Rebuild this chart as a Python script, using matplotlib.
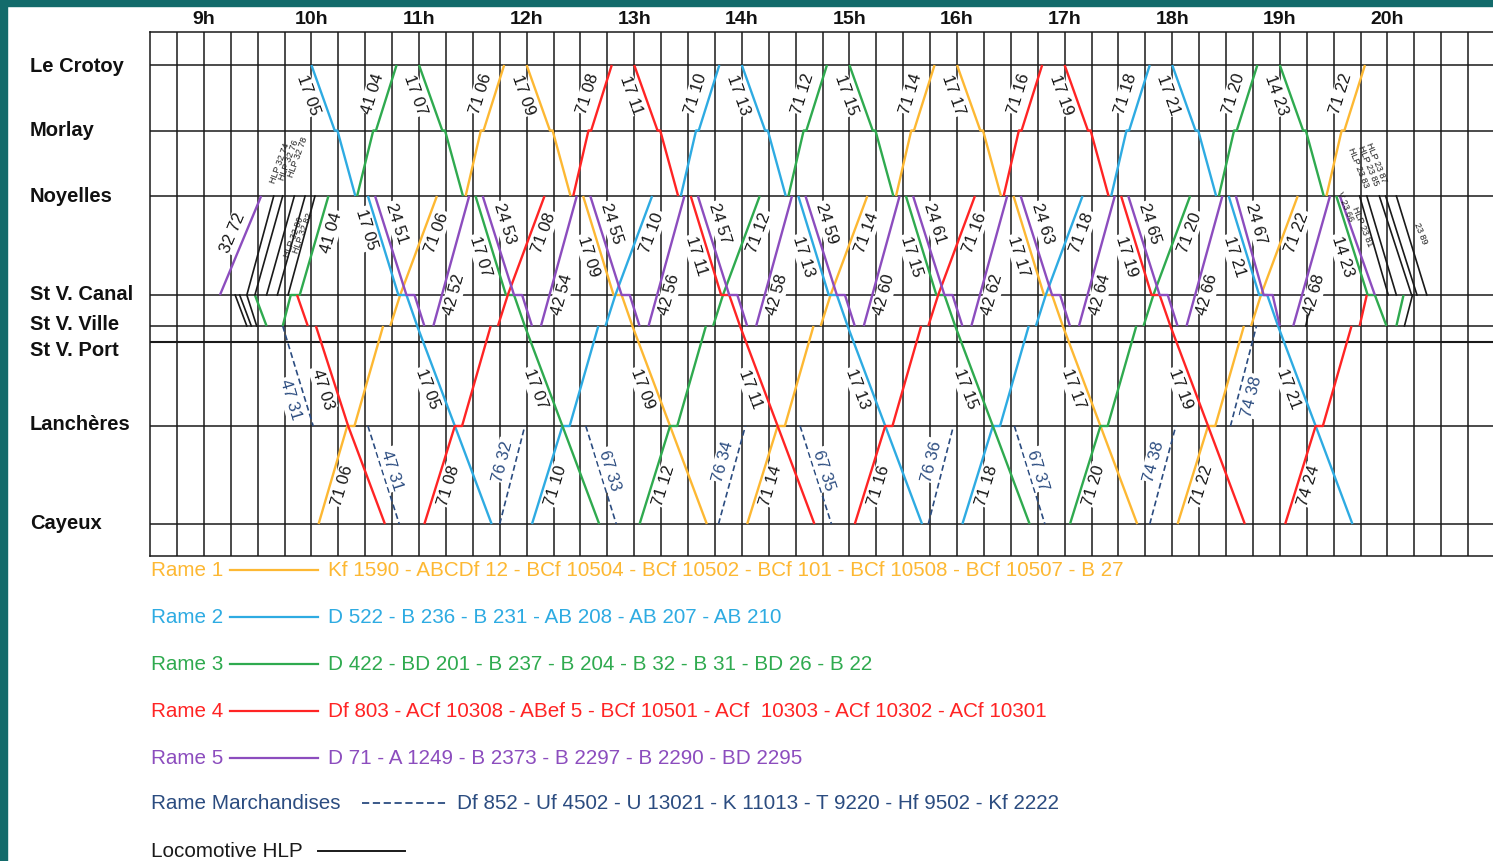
import math
import matplotlib
matplotlib.use('Agg')
import matplotlib.pyplot as plt
from matplotlib.lines import Line2D
from matplotlib.patches import Rectangle

plt.rcParams['font.family'] = ['Liberation Sans', 'DejaVu Sans']

# ------------------------------------------------------------------ data
station_codes = ['LC', 'MO', 'NO', 'SC', 'SV', 'SP', 'LA', 'CA']
station_names = ['Le Crotoy', 'Morlay', 'Noyelles', 'St V. Canal', 'St V. Ville',
                 'St V. Port', 'Lanchères', 'Cayeux']
hour_values = [9, 10, 11, 12, 13, 14, 15, 16, 17, 18, 19, 20]
hour_labels = ['9h', '10h', '11h', '12h', '13h', '14h', '15h', '16h', '17h', '18h', '19h', '20h']

rame_names = ['Rame 1', 'Rame 2', 'Rame 3', 'Rame 4', 'Rame 5', 'Rame Marchandises', 'Locomotive HLP']
rame_compositions = [
    'Kf 1590 - ABCDf 12 - BCf 10504 - BCf 10502 - BCf 101 - BCf 10508 - BCf 10507 - B 27',
    'D 522 - B 236 - B 231 - AB 208 - AB 207 - AB 210',
    'D 422 - BD 201 - B 237 - B 204 - B 32 - B 31 - BD 26 - B 22',
    'Df 803 - ACf 10308 - ABef 5 - BCf 10501 - ACf  10303 - ACf 10302 - ACf 10301',
    'D 71 - A 1249 - B 2373 - B 2297 - B 2290 - BD 2295',
    'Df 852 - Uf 4502 - U 13021 - K 11013 - T 9220 - Hf 9502 - Kf 2222',
    '',
]

# train: (number, kind, path)  path = segments separated by '|'
trains_rame1 = [
    ('71 06', 'N', 'CA 10:04, LA 10:20, LA 10:24, SV 10:40 | SV 10:44, SC 10:49.5, NO 11:10 | NO 11:26, MO 11:34.5, MO 11:36, LC 11:47.5'),
    ('17 09', 'S', 'LC 12:00, MO 12:13, MO 12:14.5, NO 12:24.5 | NO 12:31.5, SC 12:48.5, SC 12:53, SV 12:59, LA 13:20, CA 13:40.5'),
    ('71 14', 'N', 'CA 14:03, LA 14:20, LA 14:24, SV 14:40 | SV 14:44, SC 14:49.5, NO 15:10 | NO 15:26, MO 15:34.5, MO 15:36, LC 15:47.5'),
    ('17 17', 'S', 'LC 16:00, MO 16:13, MO 16:14.5, NO 16:24.5 | NO 16:31.5, SC 16:48.5, SC 16:53, SV 16:59, LA 17:20, CA 17:40.5'),
    ('71 22', 'N', 'CA 18:03, LA 18:20, LA 18:24, SV 18:40 | SV 18:44, SC 18:49.5, NO 19:10 | NO 19:26, MO 19:34.5, MO 19:36, LC 19:47.5'),
]
trains_rame2 = [
    ('17 05', 'S', 'LC 10:00, MO 10:13, MO 10:14.5, NO 10:24.5 | NO 10:31.5, SC 10:48.5, SC 10:53, SV 10:59, LA 11:20, CA 11:40.5'),
    ('71 10', 'N', 'CA 12:03, LA 12:20, LA 12:24, SV 12:40 | SV 12:44, SC 12:49.5, NO 13:10 | NO 13:26, MO 13:34.5, MO 13:36, LC 13:47.5'),
    ('17 13', 'S', 'LC 14:00, MO 14:13, MO 14:14.5, NO 14:24.5 | NO 14:31.5, SC 14:48.5, SC 14:53, SV 14:59, LA 15:20, CA 15:40.5'),
    ('71 18', 'N', 'CA 16:03, LA 16:20, LA 16:24, SV 16:40 | SV 16:44, SC 16:49.5, NO 17:10 | NO 17:26, MO 17:34.5, MO 17:36, LC 17:47.5'),
    ('17 21', 'S', 'LC 18:00, MO 18:13, MO 18:14.5, NO 18:24.5 | NO 18:31.5, SC 18:48.5, SC 18:53, SV 18:59, LA 19:20, CA 19:40.5'),
]
trains_rame3 = [
    ('', 'X', 'SC 9:28.5, SV 9:35'),
    ('41 04', 'N', 'SV 9:44, SC 9:48.5, SC 9:53.5, NO 10:09.5 | NO 10:25.5, MO 10:34.5, MO 10:36, LC 10:47.5'),
    ('17 07', 'S', 'LC 11:00, MO 11:13, MO 11:14.5, NO 11:24.5 | NO 11:31.5, SC 11:48.5, SC 11:53, SV 11:59, LA 12:20, CA 12:40.5'),
    ('71 12', 'N', 'CA 13:03, LA 13:20, LA 13:24, SV 13:40 | SV 13:44, SC 13:49.5, NO 14:10 | NO 14:26, MO 14:34.5, MO 14:36, LC 14:47.5'),
    ('17 15', 'S', 'LC 15:00, MO 15:13, MO 15:14.5, NO 15:24.5 | NO 15:31.5, SC 15:48.5, SC 15:53, SV 15:59, LA 16:20, CA 16:40.5'),
    ('71 20', 'N', 'CA 17:03, LA 17:20, LA 17:24, SV 17:40 | SV 17:44, SC 17:49.5, NO 18:10 | NO 18:26, MO 18:34.5, MO 18:36, LC 18:47.5'),
    ('14 23', 'S', 'LC 19:00, MO 19:13, MO 19:14.5, NO 19:24.5 | NO 19:31.5, SC 19:49, SC 19:53, SV 19:59.5'),
    ('', 'X', 'SV 20:05, SC 20:09'),
]
trains_rame4 = [
    ('47 03', 'S', 'SC 9:52, SV 9:58 | SV 10:02.5, LA 10:20.5, CA 10:41'),
    ('71 08', 'N', 'CA 11:03, LA 11:20, LA 11:24, SV 11:40 | SV 11:44, SC 11:49.5, NO 12:10 | NO 12:26, MO 12:34.5, MO 12:36, LC 12:47.5'),
    ('17 11', 'S', 'LC 13:00, MO 13:13, MO 13:14.5, NO 13:24.5 | NO 13:31.5, SC 13:48.5, SC 13:53, SV 13:59, LA 14:20, CA 14:40.5'),
    ('71 16', 'N', 'CA 15:03, LA 15:20, LA 15:24, SV 15:40 | SV 15:44, SC 15:49.5, NO 16:10 | NO 16:26, MO 16:34.5, MO 16:36, LC 16:47.5'),
    ('17 19', 'S', 'LC 17:00, MO 17:13, MO 17:14.5, NO 17:24.5 | NO 17:31.5, SC 17:48.5, SC 17:53, SV 17:59, LA 18:20, CA 18:40.5'),
    ('74 24', 'N', 'CA 19:03, LA 19:20, LA 19:24, SV 19:40 | SV 19:44.5, SC 19:48.5'),
]
trains_rame5 = [
    ('32 72', 'P72', 'SC 9:09, NO 9:32'),
    ('24 51', 'P24', 'NO 10:35.5, SC 10:53, SC 10:57.5, SV 11:03'),
    ('42 52', 'P42', 'SV 11:08, NO 11:28'),
    ('24 53', 'P24', 'NO 11:35.5, SC 11:53, SC 11:57.5, SV 12:03'),
    ('42 54', 'P42', 'SV 12:08, NO 12:28'),
    ('24 55', 'P24', 'NO 12:35.5, SC 12:53, SC 12:57.5, SV 13:03'),
    ('42 56', 'P42', 'SV 13:08, NO 13:28'),
    ('24 57', 'P24', 'NO 13:35.5, SC 13:53, SC 13:57.5, SV 14:03'),
    ('42 58', 'P42', 'SV 14:08, NO 14:28'),
    ('24 59', 'P24', 'NO 14:35.5, SC 14:53, SC 14:57.5, SV 15:03'),
    ('42 60', 'P42', 'SV 15:08, NO 15:28'),
    ('24 61', 'P24', 'NO 15:35.5, SC 15:53, SC 15:57.5, SV 16:03'),
    ('42 62', 'P42', 'SV 16:08, NO 16:28'),
    ('24 63', 'P24', 'NO 16:35.5, SC 16:53, SC 16:57.5, SV 17:03'),
    ('42 64', 'P42', 'SV 17:08, NO 17:28'),
    ('24 65', 'P24', 'NO 17:35.5, SC 17:53, SC 17:57.5, SV 18:03'),
    ('42 66', 'P42', 'SV 18:08, NO 18:28'),
    ('24 67', 'P24', 'NO 18:35.5, SC 18:51, SC 18:56, SV 19:00'),
    ('42 68', 'P42', 'SV 19:07.5, NO 19:28'),
    ('', 'X', 'NO 19:33.5, SC 19:53'),
]
trains_freight = [
    ('47 31', 'FS', 'SV 9:44, LA 10:01 | LA 10:31.5, CA 10:49'),
    ('76 32', 'FN', 'CA 11:45, LA 11:59'),
    ('67 33', 'FS', 'LA 12:33, CA 12:50'),
    ('76 34', 'FN', 'CA 13:47, LA 14:02'),
    ('67 35', 'FS', 'LA 14:32.5, CA 14:50'),
    ('76 36', 'FN', 'CA 15:44, LA 15:58'),
    ('67 37', 'FS', 'LA 16:32, CA 16:49'),
    ('74 38', 'FN', 'CA 17:47.5, LA 18:02 | LA 18:32.5, SV 18:47'),
]
trains_hlp = [
    ('', 'X', 'SC 9:17.5, SV 9:24'),
    ('', 'X', 'SC 9:20, SV 9:26.5'),
    ('', 'X', 'SC 9:24, SV 9:29.5'),
    ('', 'X', 'SC 9:24, NO 9:39'),
    ('', 'X', 'SC 9:28.5, NO 9:44'),
    ('', 'X', 'SC 9:35, NO 9:50.5'),
    ('', 'X', 'SC 9:41, NO 9:56.5'),
    ('', 'X', 'SC 9:47, NO 10:02'),
    ('', 'X', 'SV 19:14.5, SC 19:18'),
    ('', 'X', 'NO 19:44.5, SC 20:00.5'),
    ('', 'X', 'NO 19:48.5, SC 20:05'),
    ('', 'X', 'NO 19:55.5, SC 20:13.5'),
    ('', 'X', 'NO 19:59, SC 20:16.5'),
    ('', 'X', 'NO 20:05, SC 20:22'),
    ('', 'X', 'SV 20:09.5, SC 20:14'),
]
# small HLP captions: (text, time, vertical position in the station band, southbound?)
small_labels = [
    ('HLP 32 74', '9:42.5', 163, False), ('HLP 32 76', '9:47.5', 160, False),
    ('HLP 32 78', '9:52.5', 157, False), ('HLP 32 80', '9:50.3', 237, False),
    ('HLP 32 82', '9:55.3', 233, False),
    ('HLP 23 83', '19:43.6', 168, True), ('HLP 23 85', '19:49.2', 166, True),
    ('HLP 23 87', '19:53.6', 163, True), ('V 23 66', '19:36.4', 207, True),
    ('HLP 23 81', '19:45.8', 227, True), ('23 89', '20:18.2', 233, True),
]

# ------------------------------------------------------------------ layout / style
W, H, DPI = 1493, 862, 100
PX_PER_MIN = 107.6 / 60.0
station_y = {'LC': 66, 'MO': 131.5, 'NO': 197, 'SC': 296, 'SV': 327, 'SP': 343, 'LA': 427, 'CA': 525}
station_label_y = {'LC': 66, 'MO': 131, 'NO': 196, 'SC': 294, 'SV': 325, 'SP': 350, 'LA': 425, 'CA': 524}
rame_colors = ['#FDB833', '#2EABE2', '#2FAA4F', '#FF2424', '#8C4DBE', '#2B4C80', '#1A1A1A']
grid_color = '#1a1a1a'
teal = '#136B6B'

label_rules = {
    'S': [('LC', 'MO', 0.45, -14), ('NO', 'SC', 0.60, -13), ('SV', 'LA', 0.62, -13)],
    'N': [('CA', 'LA', 0.40, 12), ('SC', 'NO', 0.64, 13), ('MO', 'LC', 0.58, -15)],
    'P24': [('NO', 'SC', 0.27, 13)],
    'P42': [('SV', 'NO', 0.25, 12)],
    'P72': [('SC', 'NO', 0.64, -13)],
    'FS': [('SV', 'LA', 0.73, -15), ('LA', 'CA', 0.44, 10)],
    'FN': [('CA', 'LA', 0.65, -13), ('LA', 'SV', 0.30, 14)],
    'X': [],
}
label_overrides = {('17 05', 'NO', 'SC'): (0.33, -12)}


def tmin(s):
    h, m = s.strip().split(':')
    return int(h) * 60 + float(m)


def parse_path(path):
    segs = []
    for part in path.split('|'):
        pts = []
        for tok in part.split(','):
            code, t = tok.split()
            pts.append((tmin(t), code))
        segs.append(pts)
    return segs


fig = plt.figure(figsize=(W / DPI, H / DPI), dpi=DPI)
fig.patch.set_facecolor('white')

x0_px, x1_px, y0_px, y1_px = 150, 1495, 33, 557
ax = fig.add_axes([x0_px / W, 1 - y1_px / H, (x1_px - x0_px) / W, (y1_px - y0_px) / H])
tmin0 = 8 * 60 + 30
ax.set_xlim(tmin0, tmin0 + (x1_px - x0_px) / PX_PER_MIN)
ax.set_ylim(y1_px, y0_px)
ax.set_xticks([])
ax.set_yticks([])
for sp in ax.spines.values():
    sp.set_color(grid_color)
    sp.set_linewidth(1.1)

for t in range(tmin0 + 15, int(ax.get_xlim()[1]), 15):
    ax.axvline(t, color=grid_color, lw=1.1, zorder=1)
for c in station_codes:
    ax.axhline(station_y[c], color=grid_color, lw=1.1 if c != 'SP' else 1.5, zorder=1)

groups = [(trains_rame1, 0), (trains_rame2, 1), (trains_rame3, 2), (trains_rame4, 3),
          (trains_rame5, 4), (trains_freight, 5), (trains_hlp, 6)]


def place_label(text, pa, pb, frac, dx, color, fs):
    (ta, ya), (tb, yb) = pa, pb
    p1 = ax.transData.transform((ta, ya))
    p2 = ax.transData.transform((tb, yb))
    ang = math.degrees(math.atan2(p2[1] - p1[1], p2[0] - p1[0]))
    if ang > 90:
        ang -= 180
    if ang < -90:
        ang += 180
    px = p1 + frac * (p2 - p1)
    px[0] += dx
    d = ax.transData.inverted().transform(px)
    ax.text(d[0], d[1], text, rotation=ang, rotation_mode='anchor', ha='center', va='center',
            fontsize=fs, color=color, zorder=5,
            bbox=dict(boxstyle='square,pad=0.08', fc='white', ec='none'))


for trains, ri in groups:
    color = rame_colors[ri]
    for number, kind, path in trains:
        segs = parse_path(path)
        for seg in segs:
            ts = [p[0] for p in seg]
            ys = [station_y[p[1]] for p in seg]
            if ri == 5:
                ax.plot(ts, ys, color=color, lw=1.2, ls=(0, (3.5, 2)), zorder=3)
            elif ri == 6:
                ax.plot(ts, ys, color=color, lw=1.2, zorder=3)
            else:
                ax.plot(ts, ys, color=color, lw=1.7, zorder=3, solid_capstyle='butt')
        lab_color = rame_colors[5] if ri == 5 else '#151515'
        for (a, b, frac, dx) in label_rules[kind]:
            if (number, a, b) in label_overrides:
                frac, dx = label_overrides[(number, a, b)]
            for seg in segs:
                for p, q in zip(seg[:-1], seg[1:]):
                    if p[1] == a and q[1] == b:
                        place_label(number, (p[0], station_y[a]), (q[0], station_y[b]),
                                    frac, dx, lab_color, 12)

for text, t, y, south in small_labels:
    ax.text(tmin(t), y, text, rotation=-68 if south else 70, rotation_mode='anchor',
            ha='center', va='center', fontsize=6.5, color='#202020', zorder=5)

# station names & hours
for c, name in zip(station_codes, station_names):
    fig.text(30 / W, 1 - station_label_y[c] / H, name, fontsize=14.5, fontweight='bold',
             va='center', ha='left', color='#111111')
for h, lab in zip(hour_values, hour_labels):
    xp = x0_px + (h * 60 - tmin0) * PX_PER_MIN
    fig.text(xp / W, 1 - 20 / H, lab, fontsize=14, fontweight='bold', ha='center', va='center',
             color='#111111')

# legend
legend_y = [571, 618, 665, 712, 759, 804, 852]
line_x = [(230, 318)] * 5 + [(362, 447), (318, 405)]
text_x = [328] * 5 + [457, None]
for i, name in enumerate(rame_names):
    y = 1 - legend_y[i] / H
    col = rame_colors[i]
    fig.text(151 / W, y, name, fontsize=14.9, color=col, va='center', ha='left')
    xa, xb = line_x[i]
    if i == 5:
        fig.add_artist(Line2D([xa / W, xb / W], [y, y], color=col, lw=1.3, ls=(0, (4, 2))))
    else:
        fig.add_artist(Line2D([xa / W, xb / W], [y, y], color=col, lw=1.6 if i < 5 else 1.4))
    if text_x[i] is not None:
        fig.text(text_x[i] / W, y, rame_compositions[i], fontsize=14.9, color=col, va='center', ha='left')

# teal frame
fig.add_artist(Rectangle((0, 1 - 7 / H), 1, 7 / H, transform=fig.transFigure, color=teal, zorder=10))
fig.add_artist(Rectangle((0, 0), 7 / W, 1, transform=fig.transFigure, color=teal, zorder=10))

fig.savefig('out.png', dpi=DPI)
